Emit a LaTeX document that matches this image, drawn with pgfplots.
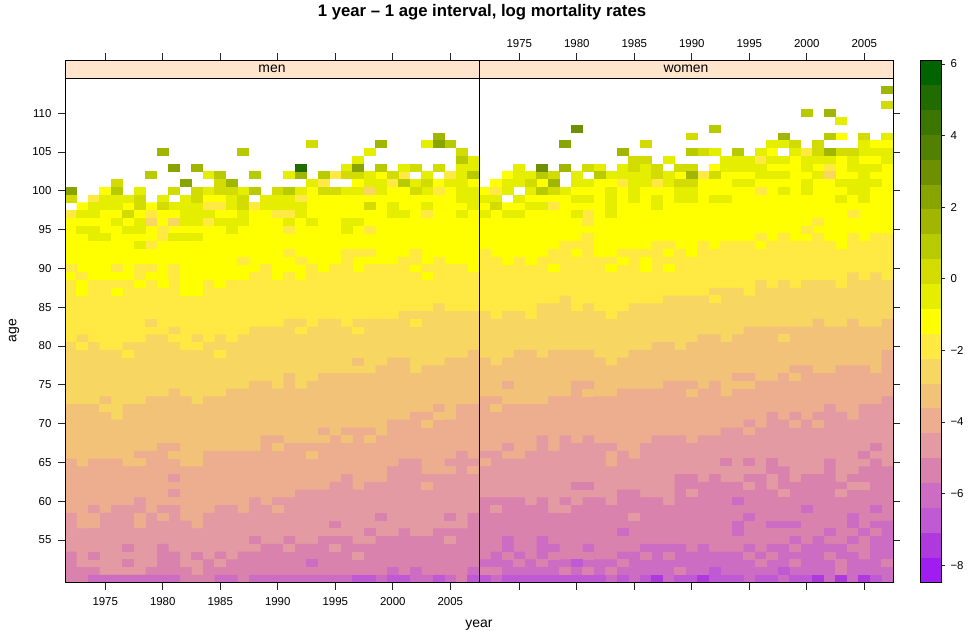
\documentclass[border=0pt]{standalone}
\usepackage{pgfplots}
\usepackage{pgfplotstable}
\pgfplotsset{compat=1.18}
\usepackage{fontspec}
\setmainfont{Liberation Sans}
\definecolor{L1}{HTML}{A01CF0}\definecolor{L2}{HTML}{AE3ADE}\definecolor{L3}{HTML}{C05AD4}
\definecolor{L4}{HTML}{CC6CC2}\definecolor{L5}{HTML}{DA82AE}\definecolor{L6}{HTML}{E39AA2}
\definecolor{L7}{HTML}{ECAE8E}\definecolor{L8}{HTML}{F2C278}\definecolor{L9}{HTML}{F8D662}
\definecolor{L10}{HTML}{FFE942}\definecolor{L11}{HTML}{FFFF00}\definecolor{L12}{HTML}{E6EE00}
\definecolor{L13}{HTML}{D2DC00}\definecolor{L14}{HTML}{B8CA00}\definecolor{L15}{HTML}{A0B600}
\definecolor{L16}{HTML}{88A400}\definecolor{L17}{HTML}{6E9000}\definecolor{L18}{HTML}{528000}
\definecolor{L19}{HTML}{3A7600}\definecolor{L20}{HTML}{206C00}\definecolor{L21}{HTML}{006400}
\definecolor{strip}{HTML}{FFE5CC}
\pgfdeclareplotmark{cell}{\pgfpathrectangle{\pgfpoint{-5.9bp}{-3.98bp}}{\pgfpoint{11.8bp}{7.96bp}}\pgfusepathqfill}
\pgfplotstableread{
year L4 L5 L6 L7 L8 L9
1972 49 53 58 65 72 80
1973 49 51 56 64 72 81
1974 50 51 59 65 72 80
1975 50 50 58 65 73 79
1976 50 50 59 65 70 79
1977 50 50 59 64 72 80
1978 50 50 60 66 72 80
1979 50 51 58 66 73 81
1980 50 54 59 67 73 81
1981 50 53 59 67 74 82
1982 49 51 57 64 73 79
1983 49 50 56 64 72 81
1984 49 52 58 66 73 80
1985 50 53 59 66 73 81
1986 50 52 59 66 74 80
1987 49 53 58 66 74 81
1988 50 53 60 66 75 82
1989 50 54 59 68 75 82
1990 50 54 60 68 74 82
1991 50 55 60 67 76 83
1992 50 54 61 67 74 83
1993 50 54 61 67 75 82
1994 50 55 61 69 76 83
1995 50 55 62 68 76 83
1996 50 55 63 69 76 82
1997 50 54 61 69 76 83
1998 50 54 62 69 76 83
1999 50 55 62 68 77 83
2000 51 55 64 70 78 83
2001 50 56 65 70 78 84
2002 51 55 65 71 76 84
2003 50 55 63 71 77 84
2004 50 56 63 72 77 85
2005 50 56 65 70 78 84
2006 49 56 66 72 78 84
2007 51 58 65 72 79 84
2008 51 58 65 72 79 84
}\men
\pgfplotstableread{
year L4 L5 L6 L7 L8 L9
1972 52 60 66 73 78 84
1973 53 60 66 73 77 83
1974 55 60 65 72 78 84
1975 53 60 65 72 79 84
1976 52 59 66 72 79 83
1977 55 60 68 72 78 85
1978 54 58 66 73 79 85
1979 52 60 68 73 79 86
1980 52 59 67 75 79 84
1981 54 60 68 75 79 85
1982 52 60 67 73 78 84
1983 52 59 64 73 77 83
1984 53 61 66 74 78 84
1985 53 61 65 74 79 85
1986 54 60 67 74 79 85
1987 54 60 68 74 80 85
1988 54 59 68 75 80 86
1989 54 63 68 75 79 86
1990 53 63 67 75 80 86
1991 54 62 68 74 81 86
1992 53 63 68 75 81 87
1993 53 62 69 73 80 87
1994 53 62 69 76 81 87
1995 54 63 70 76 82 86
1996 53 63 69 75 82 88
1997 54 61 71 75 82 87
1998 54 64 70 76 82 88
1999 55 62 71 77 82 87
2000 54 63 70 77 82 88
2001 55 63 71 76 83 88
2002 54 65 72 76 82 88
2003 54 62 71 77 82 87
2004 55 63 70 77 83 89
2005 52 64 72 77 82 88
2006 55 65 72 76 82 89
2007 57 64 73 79 83 88
2008 57 64 73 79 83 88
}\women
\newcommand\band[2]{\addplot[const plot mark left,fill=#2,draw=none,mark=none] table[x expr=\thisrow{year}-0.5,y expr=\thisrow{#2}+0.5]{#1}\closedcycle;}
\newcommand\tfont{\fontsize{11.5}{13}\selectfont}
\newcommand\lfont{\fontsize{14}{16}\selectfont}
\pgfplotsset{
 cellplot/.style={only marks,mark=cell,color=#1,mark options={solid}},
 panel/.style={scale only axis,width=414bp,height=522.7bp,
  xmin=1971.5,xmax=2007.5,ymin=49.5,ymax=116.86,
  axis on top,tick align=outside,major tick length=7bp,
  axis line style={line width=.8bp},tick style={line width=.8bp,black!85},
  xtick={1975,1980,1985,1990,1995,2000,2005},
  xticklabels={1975,1980,1985,1990,1995,2000,2005},
  ytick={55,60,65,70,75,80,85,90,95,100,105,110},
  yticklabels={55,60,65,70,75,80,85,90,95,100,105,110},
  tick label style={font=\tfont},
  xtick pos=both,
 },
}
\begin{document}
\begin{tikzpicture}
\path[use as bounding box] (0,0) rectangle (968bp,637bp);
\begin{axis}[panel,at={(65bp,54.3bp)},anchor=south west,ytick pos=left,xticklabel pos=bottom,
 x tick label style={yshift=-4bp},y tick label style={xshift=-3bp}]
\addplot[const plot mark left,fill=L11,draw=none,mark=none] coordinates {(1971.5,97.5)(1972.5,98.5)(2007.5,98.5)}\closedcycle;
\addplot[const plot mark left,fill=L10,draw=none,mark=none] coordinates {(1971.5,88.5)(2007.5,88.5)}\closedcycle;
\band{\men}{L9}\band{\men}{L8}\band{\men}{L7}\band{\men}{L6}\band{\men}{L5}\band{\men}{L4}
\addplot[cellplot=L11] coordinates {(1984,99)(1985,99)(1993,99)(1994,99)(1995,99)(1996,99)(1997,99)(1998,99)(1999,99)(2000,99)(2001,99)(2002,99)(2003,99)(2004,99)(2005,99)
 (1975,100)(1993,100)(2000,100)(2001,100)(2005,100)(1997,101)(2004,101)(2007,101)(1999,102)
 (1973,88)(1978,88)(1980,88)(1982,88)(1983,88)(1985,88)(1973,87)(1976,87)(1982,87)(1983,87)};
\addplot[cellplot=L10] coordinates {(1995,102)(2001,102)(2005,102)(1994,101)(2000,101)(2004,100)(1974,99)(1992,99)
 (1984,98)(1985,98)(1988,98)(1972,97)(1979,97)(1990,97)(1991,97)(2003,97)(1984,96)(1980,95)(1991,95)(1998,95)(1980,94)(1979,93)
 (1991,92)(1996,92)(1997,92)(1998,92)(2002,92)(1987,91)(1992,91)(1996,91)(2001,91)(2002,91)(2004,91)
 (1972,90)(1976,90)(1978,90)(1979,90)(1981,90)(1989,90)(1993,90)(1995,90)(1996,90)(1998,90)(1999,90)(2000,90)(2001,90)(2003,90)(2004,90)(2005,90)(2006,90)
 (1973,89)(1978,89)(1981,89)(1988,89)(1989,89)(1991,89)(1993,89)(1994,89)(1995,89)(1996,89)(1997,89)(1998,89)(1999,89)(2000,89)(2001,89)(2002,89)(2004,89)(2005,89)(2006,89)(2007,89)
 (1973,80)(1977,79)(1985,79)(1992,82)(1997,82)(2002,83)(1981,81)(1983,80)};
\addplot[cellplot=L9] coordinates {(1998,100)(1979,96)(1981,96)(1979,83)(1975,72)};
\addplot[cellplot=L8] coordinates {(1978,65)(2003,70)(2004,71)(1981,66)(1990,67)(1993,66)(1994,68)(1996,68)(1998,68)(1997,78)};
\addplot[cellplot=L7] coordinates {(1974,58)(1974,57)(1978,58)(1978,57)(1980,58)(1990,59)(2003,62)(2005,64)(2007,64)};
\addplot[cellplot=L6] coordinates {(1981,63)(1981,61)(1985,52)(1991,54)(1995,54)(1997,53)(2005,55)};
\addplot[cellplot=L5] coordinates {(1974,53)(1977,54)(1977,52)(1983,53)(1988,55)(1995,57)(1998,56)(1999,58)(2005,58)};
\addplot[cellplot=L4] coordinates {(1993,52)};
\addplot[cellplot=L3] coordinates {(1997,50)(1998,50)(2000,50)(2001,50)(2004,50)(2007,50)};
\addplot[cellplot=L12] coordinates {(2003,106)(1998,105)(1997,104)(2007,104)(1996,103)(2001,103)(2006,103)(2007,103)
 (1984,102)(1991,102)(1998,102)(2003,102)(2006,102)(1993,101)(1998,101)(1999,101)(2002,101)(2005,101)(2006,101)
 (1978,100)(1984,100)(1987,100)(1992,100)(1996,100)(1997,100)(1999,100)(2003,100)(2006,100)(2007,100)
 (1975,99)(1976,99)(1977,99)(1980,99)(1982,99)(1986,99)(1989,99)(1990,99)(1991,99)(2006,99)(2007,99)
 (1974,98)(1975,98)(1976,98)(1981,98)(1982,98)(1983,98)(1986,98)(1989,98)(1990,98)(1991,98)(1992,98)(2000,98)(2003,98)(2007,98)
 (1973,97)(1974,97)(1982,97)(1983,97)(1984,97)(1987,97)(1992,97)(2000,97)(2001,97)(2006,97)
 (1976,96)(1978,96)(1982,96)(1983,96)(1985,96)(1986,96)(1987,96)(1991,96)(1993,96)(1996,96)(1997,96)
 (1973,95)(1974,95)(1977,95)(1978,95)(1986,95)(1996,95)(1974,94)(1975,94)(1981,94)(1982,94)(1983,94)(1978,93)};
\addplot[cellplot=L13] coordinates {(1993,106)(2006,105)(2002,103)(2004,103)(1996,102)(1997,102)(2000,102)(1976,101)(1985,101)(2003,101)
 (1981,100)(1983,100)(1985,100)(1986,100)(1990,100)(1994,100)(1995,100)(2002,100)(1972,99)(1978,99)(1983,99)(1987,99)
 (1978,98)(1980,98)(1987,98)(1998,98)(1977,97)};
\addplot[cellplot=L14] coordinates {(2005,106)(1987,105)(2006,104)(1999,103)(1979,102)(1985,102)(1988,102)(1994,102)(2007,102)(2001,101)(1976,100)(1988,100)(1991,100)};
\addplot[cellplot=L15] coordinates {(2004,107)(1999,106)(1980,105)(1983,103)(1992,102)(1986,101)};
\addplot[cellplot=L16] coordinates {(2004,106)(1981,103)(1997,103)(1982,101)(1972,100)};
\addplot[cellplot=L20] coordinates {(1992,103)};
\draw[fill=strip,line width=.8bp] (axis cs:1971.5,114.5) rectangle (axis cs:2007.5,116.86);
\node[font=\lfont] at (axis cs:1989.5,115.68) {men};
\end{axis}
\begin{axis}[panel,at={(479bp,54.3bp)},anchor=south west,ytick pos=right,yticklabels={},xticklabel pos=upper,
 x tick label style={yshift=2bp}]
\addplot[const plot mark left,fill=L11,draw=none,mark=none] coordinates {(1971.5,98.5)(2007.5,98.5)}\closedcycle;
\addplot[const plot mark left,fill=L10,draw=none,mark=none] coordinates {(1971.5,91.5)(2007.5,91.5)}\closedcycle;
\band{\women}{L9}\band{\women}{L8}\band{\women}{L7}\band{\women}{L6}\band{\women}{L5}\band{\women}{L4}
\addplot[cellplot=L11] coordinates {(2003,107)(2006,106)(2007,106)(1997,105)(1999,104)(2003,104)(2005,104)(2006,104)
 (1992,103)(1997,103)(1998,103)(1999,103)(2001,103)(2003,103)(2007,103)
 (1974,102)(1989,102)(1993,102)(1994,102)(1995,102)(1999,102)(2000,102)(2003,102)(2004,102)(2006,102)(2007,102)
 (1973,101)(1977,101)(1982,101)(1983,101)(1991,101)(1992,101)(1993,101)(1996,101)(1997,101)(1998,101)(1999,101)(2001,101)(2002,101)(2007,101)
 (1972,100)(1980,100)(1981,100)(1982,100)(1984,100)(1986,100)(1987,100)(1988,100)(1991,100)(1992,100)(1993,100)(1994,100)(1995,100)(1997,100)(1999,100)(2001,100)(2002,100)(2003,100)(2006,100)(2007,100)
 (1976,99)(1977,99)(1978,99)(1979,99)(1982,99)(1984,99)(1986,99)(1988,99)(1991,99)(1994,99)(1995,99)(1996,99)(1997,99)(1998,99)(1999,99)(2000,99)(2001,99)(2002,99)(2004,99)(2006,99)(2007,99)
 (1974,91)(1976,91)(1984,91)(1986,91)(1978,90)(1983,90)(1986,90)(1988,90)};
\addplot[cellplot=L10] coordinates {(2002,103)(2000,105)(1996,104)(1991,102)(1984,101)(1987,101)(1973,100)(1996,100)(1978,98)(1981,97)(2004,97)(1981,96)(2001,96)(2000,95)
 (1981,94)(1996,94)(1998,94)(2001,94)(2004,94)(2006,94)(2007,94)
 (1979,93)(1980,93)(1981,93)(1987,93)(1988,93)(1991,93)(1993,93)(1994,93)(1995,93)(1997,93)(1998,93)(1999,93)(2000,93)(2001,93)(2002,93)(2004,93)(2005,93)(2006,93)(2007,93)
 (1972,92)(1978,92)(1979,92)(1981,92)(1984,92)(1985,92)(1986,92)(1987,92)(1989,92)(1991,92)(1992,92)(1993,92)(1994,92)(1995,92)(1996,92)(1997,92)(1998,92)(1999,92)(2000,92)(2001,92)(2002,92)(2003,92)(2004,92)(2005,92)(2006,92)(2007,92)
 (1992,86)};
\addplot[cellplot=L9] coordinates {(2002,102)(1998,81)};
\addplot[cellplot=L8] coordinates {(1973,72)(1990,74)(1981,74)(1994,75)(1995,75)(1999,76)};
\addplot[cellplot=L7] coordinates {(1974,75)(1999,70)(2001,70)(1995,69)(1972,65)};
\addplot[cellplot=L6] coordinates {(1974,67)(1983,67)(1973,59)(1979,59)(1985,58)(1990,61)(1995,62)(1998,61)(2003,61)(2004,62)(2005,62)};
\addplot[cellplot=L5] coordinates {(1980,62)(1981,62)(1993,65)(1995,65)(1997,64)(1997,65)(2005,66)(2006,67)
 (1972,51)(1973,51)(1979,51)(1981,51)(1983,51)(1989,51)(2003,51)(1974,53)(1975,52)(1977,52)(1978,53)(1981,53)(1984,52)(1986,53)(1988,53)(1995,53)(1996,52)(1997,53)(1999,54)(1999,52)(2002,53)(2003,52)(2004,54)(2007,52)};
\addplot[cellplot=L4] coordinates {(1994,60)(2000,59)(2006,59)(1995,58)(2004,58)(1994,57)(1997,57)(1998,57)(1999,57)(2004,57)(1984,56)(1994,56)(2002,56)(2005,56)(2006,57)};
\addplot[cellplot=L3] coordinates {(1972,50)(1974,50)(1975,50)(1976,50)(1977,50)(1978,50)(1979,50)(1980,50)(1981,50)(1982,50)(1984,50)(1986,50)(1989,50)(1990,50)(1992,50)(1993,50)(1994,50)(1996,50)(1997,50)(1999,50)(2000,50)(2006,50)(1992,51)(1998,51)(1980,52)};
\addplot[cellplot=L2] coordinates {(1987,50)(1991,50)(2001,50)(2003,50)(2005,50)};
\addplot[cellplot=L12] coordinates {(2003,109)(2007,107)(1997,106)(1998,106)(2005,106)
 (1992,105)(1996,105)(1999,105)(2005,105)(2006,105)(2007,105)
 (1988,104)(1993,104)(1994,104)(1995,104)(1997,104)(1998,104)(2000,104)(2001,104)(2002,104)(2004,104)(2007,104)
 (1975,103)(1982,103)(1984,103)(1986,103)(1993,103)(1994,103)(1995,103)(1996,103)(2000,103)(2004,103)(2005,103)(2006,103)
 (1975,102)(1976,102)(1980,102)(1983,102)(1984,102)(1985,102)(1986,102)(1988,102)(1996,102)(1997,102)(1998,102)(2001,102)(2005,102)
 (1974,101)(1975,101)(1980,101)(1981,101)(1985,101)(1986,101)(1988,101)(1994,101)(1995,101)(2000,101)(2003,101)(2004,101)(2005,101)(2006,101)
 (1974,100)(1976,100)(1979,100)(1983,100)(1985,100)(1989,100)(1990,100)(1998,100)(2000,100)(2004,100)(2005,100)
 (1972,99)(1973,99)(1975,99)(1980,99)(1981,99)(1983,99)(1985,99)(1987,99)(1989,99)(1990,99)(1992,99)(1993,99)(2003,99)(2005,99)
 (1976,98)(1977,98)(1983,98)(1987,98)(1972,97)(1974,97)(1975,97)(1980,97)(1983,97)};
\addplot[cellplot=L13] coordinates {(2007,111)(1990,107)(2005,107)(1986,106)(1999,106)(2001,106)(1991,105)(2001,105)(2003,105)(2004,105)(1985,104)(1986,104)
 (1981,103)(1985,103)(1987,103)(1989,103)(1990,103)(1978,102)(1987,102)(1992,102)(1976,101)(1989,101)(1990,101)(1978,100)(1973,98)};
\addplot[cellplot=L14] coordinates {(2000,110)(1992,108)(2002,107)(1990,105)(1994,105)(1977,102)(1982,102)(1977,100)};
\addplot[cellplot=L15] coordinates {(2007,113)(2002,110)(1998,107)(1984,105)(2002,105)(1979,103)(1990,102)(1978,101)};
\addplot[cellplot=L16] coordinates {(1979,106)};
\addplot[cellplot=L17] coordinates {(1980,108)(1977,103)};
\draw[fill=strip,line width=.8bp] (axis cs:1971.5,114.5) rectangle (axis cs:2007.5,116.86);
\node[font=\lfont] at (axis cs:1989.5,115.68) {women};
\end{axis}
\begin{axis}[scale only axis,at={(920bp,54.3bp)},anchor=south west,width=21bp,height=522.7bp,
 xmin=0,xmax=1,ymin=-8.49,ymax=6.11,xtick=\empty,axis on top,tick align=outside,major tick length=4bp,
 axis line style={line width=.8bp},tick style={line width=.8bp,black!85},ytick pos=right,yticklabel pos=right,
 ytick={-8,-6,-4,-2,0,2,4,6},yticklabels={−8,−6,−4,−2,0,2,4,6},
 tick label style={font=\tfont,xshift=2bp}]
\addplot[fill=L1,draw=none] coordinates {(0,-8.49)(1,-8.49)(1,-7.79)(0,-7.79)} --cycle;
\addplot[fill=L2,draw=none] coordinates {(0,-7.79)(1,-7.79)(1,-7.10)(0,-7.10)} --cycle;
\addplot[fill=L3,draw=none] coordinates {(0,-7.10)(1,-7.10)(1,-6.40)(0,-6.40)} --cycle;
\addplot[fill=L4,draw=none] coordinates {(0,-6.40)(1,-6.40)(1,-5.71)(0,-5.71)} --cycle;
\addplot[fill=L5,draw=none] coordinates {(0,-5.71)(1,-5.71)(1,-5.01)(0,-5.01)} --cycle;
\addplot[fill=L6,draw=none] coordinates {(0,-5.01)(1,-5.01)(1,-4.32)(0,-4.32)} --cycle;
\addplot[fill=L7,draw=none] coordinates {(0,-4.32)(1,-4.32)(1,-3.62)(0,-3.62)} --cycle;
\addplot[fill=L8,draw=none] coordinates {(0,-3.62)(1,-3.62)(1,-2.93)(0,-2.93)} --cycle;
\addplot[fill=L9,draw=none] coordinates {(0,-2.93)(1,-2.93)(1,-2.23)(0,-2.23)} --cycle;
\addplot[fill=L10,draw=none] coordinates {(0,-2.23)(1,-2.23)(1,-1.54)(0,-1.54)} --cycle;
\addplot[fill=L11,draw=none] coordinates {(0,-1.54)(1,-1.54)(1,-0.84)(0,-0.84)} --cycle;
\addplot[fill=L12,draw=none] coordinates {(0,-0.84)(1,-0.84)(1,-0.15)(0,-0.15)} --cycle;
\addplot[fill=L13,draw=none] coordinates {(0,-0.15)(1,-0.15)(1,0.55)(0,0.55)} --cycle;
\addplot[fill=L14,draw=none] coordinates {(0,0.55)(1,0.55)(1,1.24)(0,1.24)} --cycle;
\addplot[fill=L15,draw=none] coordinates {(0,1.24)(1,1.24)(1,1.94)(0,1.94)} --cycle;
\addplot[fill=L16,draw=none] coordinates {(0,1.94)(1,1.94)(1,2.63)(0,2.63)} --cycle;
\addplot[fill=L17,draw=none] coordinates {(0,2.63)(1,2.63)(1,3.33)(0,3.33)} --cycle;
\addplot[fill=L18,draw=none] coordinates {(0,3.33)(1,3.33)(1,4.02)(0,4.02)} --cycle;
\addplot[fill=L19,draw=none] coordinates {(0,4.02)(1,4.02)(1,4.72)(0,4.72)} --cycle;
\addplot[fill=L20,draw=none] coordinates {(0,4.72)(1,4.72)(1,5.41)(0,5.41)} --cycle;
\addplot[fill=L21,draw=none] coordinates {(0,5.41)(1,5.41)(1,6.11)(0,6.11)} --cycle;
\end{axis}
\draw[line width=.8bp] (65bp,54.3bp) rectangle (893bp,577bp);
\draw[line width=1bp] (479bp,54.3bp) -- (479bp,577bp);
\node[font=\bfseries\fontsize{16.8}{19}\selectfont] at (482bp,625bp) {1 year – 1 age interval, log mortality rates};
\node[font=\lfont] at (479bp,12bp) {year};
\node[font=\lfont,rotate=90] at (14bp,306.5bp) {age};
\end{tikzpicture}
\end{document}
